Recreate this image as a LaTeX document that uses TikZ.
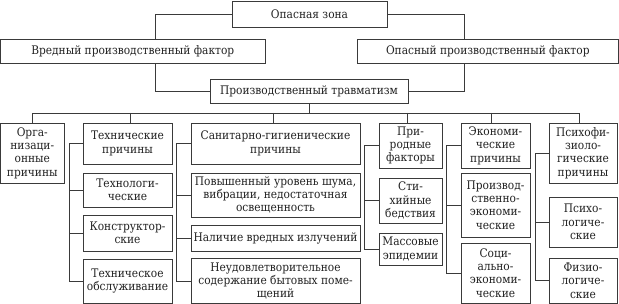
\documentclass[tikz,border=0pt]{standalone}
\usepackage{fontspec}
\setmainfont{DejaVu Serif Condensed}
\definecolor{ln}{HTML}{3A3A3A}
\definecolor{tx}{HTML}{222222}
\begin{document}
\begin{tikzpicture}[x=1pt,y=-1pt,
  box/.style={draw=ln, line width=0.8pt, inner sep=0pt, align=center, text=tx,
    font=\fontsize{11.8}{13.4}\selectfont},
  conn/.style={draw=ln, line width=0.8pt}]
\useasboundingbox (0,0) rectangle (619,304);
\fill[white] (0,0) rectangle (619,304);
\node[box, minimum width=155pt, minimum height=26pt] (zone) at (309.5,14) {Опасная зона};
\node[box, minimum width=264.5pt, minimum height=24pt] (harm) at (132.75,51) {Вредный производственный фактор};
\node[box, minimum width=261.5pt, minimum height=24pt] (danger) at (487.75,51) {Опасный производственный фактор};
\node[box, minimum width=198pt, minimum height=24pt] (trauma) at (309,91) {Производственный травматизм};
% column heads
\node[box, minimum width=63.5pt, minimum height=60pt] (org) at (32.25,153) {Орга-\\низаци-\\онные\\причины};
\node[box, minimum width=89pt, minimum height=41pt] (tech) at (127.5,143.5) {Технические\\причины};
\node[box, minimum width=169pt, minimum height=41pt] (san) at (275.5,143.5) {Санитарно-гигиенические\\причины};
\node[box, minimum width=63pt, minimum height=45pt] (nat) at (410.5,145.5) {При-\\родные\\факторы};
\node[box, minimum width=69pt, minimum height=45pt] (econ) at (495.5,145.5) {Экономи-\\ческие\\причины};
\node[box, minimum width=68pt, minimum height=60pt] (psy) at (583,153) {Психофи-\\зиоло-\\гические\\причины};
% tech subs
\node[box, minimum width=89pt, minimum height=34pt] (techno) at (127.5,190) {Технологи-\\ческие};
\node[box, minimum width=89pt, minimum height=36pt] (constr) at (127.5,233) {Конструктор-\\ские};
\node[box, minimum width=89pt, minimum height=44pt] (serv) at (127.5,281) {Техническое\\обслуживание};
% san subs
\node[box, minimum width=169pt, minimum height=44pt] (noise) at (275.5,195) {Повышенный уровень шума,\\вибрации, недостаточная\\освещенность};
\node[box, minimum width=169pt, minimum height=26pt] (rad) at (275.5,238) {Наличие вредных излучений};
\node[box, minimum width=169pt, minimum height=45pt] (living) at (275.5,281) {Неудовлетворительное\\содержание бытовых поме-\\щений};
% nat subs
\node[box, minimum width=63pt, minimum height=45pt] (disaster) at (410.5,200.5) {Сти-\\хийные\\бедствия};
\node[box, minimum width=63pt, minimum height=32pt] (epid) at (410.5,249) {Массовые\\эпидемии};
% econ subs
\node[box, minimum width=69pt, minimum height=64pt] (prodec) at (495.5,205) {Производ-\\ственно-\\экономи-\\ческие};
\node[box, minimum width=69pt, minimum height=60pt] (socec) at (495.5,273) {Соци-\\ально-\\экономи-\\ческие};
% psy subs
\node[box, minimum width=68pt, minimum height=50pt] (psych) at (583,222) {Психо-\\логиче-\\ские};
\node[box, minimum width=68pt, minimum height=45pt] (phys) at (583,280.5) {Физио-\\логиче-\\ские};
% top connectors
\draw[conn] (zone.west) -| ([xshift=22.25pt]harm.north);
\draw[conn] (zone.east) -| ([xshift=-23.75pt]danger.north);
\draw[conn] ([xshift=22.25pt]harm.south) |- (trauma.west);
\draw[conn] ([xshift=-23.75pt]danger.south) |- (trauma.east);
% bus
\coordinate (bus) at (0,113);
\draw[conn] (trauma.south) -- (trauma.south |- bus);
\draw[conn] (org.north) -- (org.north |- bus) -- ([xshift=-4pt]psy.north |- bus) -- ([xshift=-4pt]psy.north);
\foreach \n/\o in {tech/2.5,san/-2.5,nat/-3,econ/-4.5}
  \draw[conn] ([xshift=\o pt]\n.north |- bus) -- ([xshift=\o pt]\n.north);
% side trees
\foreach \p/\d/\s in {tech/13/techno, tech/13/constr, tech/13/serv,
                     san/14/noise, san/14/rad, san/14/living,
                     nat/14/disaster, nat/14/epid,
                     econ/14/prodec, econ/14/socec,
                     psy/13/psych, psy/13/phys}
  \draw[conn] (\p.west) -- ++(-\d pt,0) |- (\s.west);
\end{tikzpicture}
\end{document}
